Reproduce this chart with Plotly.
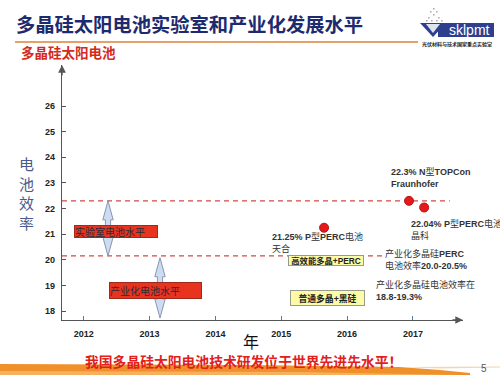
import plotly.graph_objects as go

# ---------------- data ----------------
years = [2012, 2013, 2014, 2015, 2016, 2017]
eff_ticks = [18, 19, 20, 21, 22, 23, 24, 25, 26]
record_years = [2015.65, 2016.94, 2017.17]
record_eff = [21.25, 22.3, 22.04]
record_labels = [
    "<b>21.25% P</b>型<b>PERC</b>电池<br>天合",
    "<b>22.3% N</b>型<b>TOPCon</b><br><b>Fraunhofer</b>",
    "<b>22.04% P</b>型<b>PERC</b>电池<br>晶科",
]
lab_level = 22.3
ind_level = 20.15
lab_line_end = 2017.56
ind_line_end = 2016.55

# ---------------- geometry helpers ----------------
W, H = 500, 375
L, R, T, B = 62, 37, 65, 55
X0, X1 = 2011.67, 2017.76
Y0, Y1 = 17.65, 27.6
XS = (W - L - R) / (X1 - X0)   # px per year
YS = (H - T - B) / (Y1 - Y0)   # px per unit


def dx(px):
    return X0 + (px - L) / XS


def dy(py):
    return Y0 + ((H - B) - py) / YS


def px_(px):
    return (px - L) / (W - L - R)


def py_(py):
    return ((H - B) - py) / (H - T - B)


CJK = "Noto Sans CJK SC"
LAT = "Liberation Sans, Noto Sans CJK SC"

fig = go.Figure()

# dashed level lines
fig.add_trace(go.Scatter(x=[X0, lab_line_end], y=[lab_level, lab_level], mode="lines",
                         line=dict(color="#d24a44", width=1.3, dash="5px,4px"),
                         hoverinfo="skip", showlegend=False))
fig.add_trace(go.Scatter(x=[X0, ind_line_end], y=[ind_level, ind_level], mode="lines",
                         line=dict(color="#d24a44", width=1.3, dash="5px,4px"),
                         hoverinfo="skip", showlegend=False))

# record points
fig.add_trace(go.Scatter(x=record_years, y=record_eff, mode="markers",
                         marker=dict(size=9, color="#e3191c", line=dict(color="#b51414", width=1)),
                         showlegend=False))

shapes = []
annotations = []


def block_arrow(xc, y_top, y_bot, bw=2.6, hw=5.2, hl=19):
    bx, hx, hy = bw / XS, hw / XS, hl / YS
    pts = [(xc, y_top), (xc + hx, y_top - hy), (xc + bx, y_top - hy), (xc + bx, y_bot + hy),
           (xc + hx, y_bot + hy), (xc, y_bot), (xc - hx, y_bot + hy), (xc - bx, y_bot + hy),
           (xc - bx, y_top - hy), (xc - hx, y_top - hy)]
    path = "M " + " L ".join(f"{a},{b}" for a, b in pts) + " Z"
    return dict(type="path", xref="x", yref="y", path=path, fillcolor="#cddcf0",
                line=dict(color="#8796b4", width=1), layer="above")


shapes.append(block_arrow(dx(108), lab_level, ind_level))
shapes.append(block_arrow(dx(160), ind_level - 0.07, dy(318)))

# axis arrow heads
annotations.append(dict(x=X0, y=Y1, xref="x", yref="y", ax=0, ay=12, text="", showarrow=True,
                        arrowhead=2, arrowsize=1.1, arrowwidth=1.4, arrowcolor="#555"))
annotations.append(dict(x=X1, y=Y0, xref="x", yref="y", ax=-12, ay=0, text="", showarrow=True,
                        arrowhead=2, arrowsize=1.1, arrowwidth=1.4, arrowcolor="#555"))

# red boxes
annotations.append(dict(x=dx(116), y=dy(231), xref="x", yref="y", text="实验室电池水平", showarrow=False,
                        font=dict(family=CJK, size=10, color="#2b2b3b"), bgcolor="#e8331f",
                        bordercolor="#a02a1a", borderwidth=1, borderpad=0, width=82, height=11,
                        align="left"))
annotations.append(dict(x=dx(155.5), y=dy(290), xref="x", yref="y", text="产业化电池水平", showarrow=False,
                        font=dict(family=CJK, size=10, color="#2b2b3b"), bgcolor="#e8331f",
                        bordercolor="#a02a1a", borderwidth=1, borderpad=0, width=91, height=15,
                        align="left"))
# yellow boxes
annotations.append(dict(x=dx(326), y=dy(260), xref="x", yref="y", text="<b>高效能多晶+PERC</b>", showarrow=False,
                        font=dict(family=LAT, size=8.3, color="#222"), bgcolor="#fdfba6",
                        bordercolor="#9a9a8a", borderwidth=1, borderpad=0, width=74, height=9))
annotations.append(dict(x=dx(327.5), y=dy(298), xref="x", yref="y", text="<b>普通多晶+黑硅</b>", showarrow=False,
                        font=dict(family=LAT, size=8.8, color="#222"), bgcolor="#fdfba6",
                        bordercolor="#9a9a8a", borderwidth=1, borderpad=0, width=73, height=14))

# record labels
label_pos = [(270, 242), (389, 178), (409, 229)]
for (lx, ly), txt in zip(label_pos, record_labels):
    annotations.append(dict(x=dx(lx), y=dy(ly), xref="x", yref="y", text=txt, showarrow=False,
                            xanchor="left", yanchor="middle", align="left",
                            font=dict(family=LAT, size=9, color="#333")))
annotations.append(dict(x=dx(383), y=dy(259.5), xref="x", yref="y",
                        text="产业化多晶硅<b>PERC</b><br>电池效率<b>20.0-20.5%</b>", showarrow=False,
                        xanchor="left", yanchor="middle", align="left",
                        font=dict(family=LAT, size=9, color="#333")))
annotations.append(dict(x=dx(374), y=dy(290), xref="x", yref="y",
                        text="产业化多晶硅电池效率在<br><b>18.8-19.3%</b>", showarrow=False,
                        xanchor="left", yanchor="middle", align="left",
                        font=dict(family=LAT, size=9, color="#333")))

# axis titles
annotations.append(dict(x=px_(26), y=py_(193), xref="paper", yref="paper", text="电<br>池<br>效<br>率",
                        showarrow=False, font=dict(family=CJK, size=15, color="#4a5a8c"),
                        xanchor="center", yanchor="middle"))
annotations.append(dict(x=px_(251), y=py_(341), xref="paper", yref="paper", text="年",
                        showarrow=False, font=dict(family=CJK, size=16, color="#111"),
                        xanchor="center", yanchor="middle"))

# titles
annotations.append(dict(x=px_(14), y=py_(24), xref="paper", yref="paper",
                        text="<b>多晶硅太阳电池实验室和产业化发展水平</b>", showarrow=False,
                        font=dict(family=CJK, size=19.3, color="#1d2a6e"), xanchor="left", yanchor="middle"))
annotations.append(dict(x=px_(19), y=py_(52), xref="paper", yref="paper",
                        text="<b>多晶硅太阳电池</b>", showarrow=False,
                        font=dict(family=CJK, size=13.5, color="#d42a1e"), xanchor="left", yanchor="middle"))
annotations.append(dict(x=px_(243), y=py_(361), xref="paper", yref="paper",
                        text="<b>我国多晶硅太阳电池技术研发位于世界先进先水平！</b>", showarrow=False,
                        font=dict(family=CJK, size=13.8, color="#e0201c"), xanchor="center", yanchor="middle"))
annotations.append(dict(x=px_(484), y=py_(368), xref="paper", yref="paper", text="5", showarrow=False,
                        font=dict(family=LAT, size=10, color="#555"), xanchor="center", yanchor="middle"))

# logo
annotations.append(dict(x=px_(470), y=py_(30), xref="paper", yref="paper", text="sklpmt", showarrow=False,
                        font=dict(family="Liberation Sans", size=14, color="#ffffff"),
                        xanchor="center", yanchor="middle"))
annotations.append(dict(x=px_(457), y=py_(43.5), xref="paper", yref="paper",
                        text="<b>光伏材料与技术国家重点实验室</b>", showarrow=False,
                        font=dict(family=CJK, size=5, color="#222"), xanchor="center", yanchor="middle"))


def rect_px(x0, y0, x1, y1, fill, line=None, layer="above"):
    return dict(type="rect", xref="paper", yref="paper", x0=px_(x0), x1=px_(x1), y0=py_(y1), y1=py_(y0),
                fillcolor=fill, line=dict(width=0) if line is None else line, layer=layer)


def path_px(pts, fill, layer="above"):
    p = "M " + " L ".join(f"{px_(a)},{py_(b)}" for a, b in pts) + " Z"
    return dict(type="path", xref="paper", yref="paper", path=p, fillcolor=fill,
                line=dict(width=0), layer=layer)


# title underline
shapes.append(dict(type="line", xref="paper", yref="paper", x0=px_(15), x1=px_(418), y0=py_(42), y1=py_(42),
                   line=dict(color="#e6a06a", width=2)))
# logo shapes
shapes.append(rect_px(438, 23, 494, 37, "#2e3f8f"))
shapes.append(path_px([(420, 23), (446, 23), (433, 37)], "#2e3f8f"))
shapes.append(path_px([(426, 24), (440, 24), (433, 33)], "#dfe3ee"))
for (ax_, ay_) in [(428, 17), (433, 14), (438, 17), (431, 20), (436, 20), (441, 20), (426, 20), (433, 8), (436, 11), (430, 11)]:
    shapes.append(rect_px(ax_, ay_, ax_ + 1.6, ay_ + 1.6, "#a8acc0"))

# bottom swoosh
shapes.append(path_px([(0, 364), (250, 365), (400, 367), (440, 370), (470, 373), (470, 375), (0, 375)], "#f0902a"))
shapes.append(path_px([(0, 371), (300, 372), (460, 375), (0, 375)], "#f5b060"))
shapes.append(path_px([(400, 367), (500, 366.5), (500, 367.5), (440, 368.5)], "#f3d6b0"))

fig.update_layout(
    width=W, height=H, margin=dict(l=L, r=R, t=T, b=B),
    paper_bgcolor="white", plot_bgcolor="white",
    showlegend=False, shapes=shapes, annotations=annotations,
    xaxis=dict(range=[X0, X1], tickvals=years, ticks="inside", ticklen=4, tickcolor="#5a78a8",
               showline=True, linecolor="#555", linewidth=1.4, showgrid=False, zeroline=False,
               tickfont=dict(family="Liberation Sans", size=9, color="#222", weight="bold"),
               ticklabelstandoff=5, fixedrange=True),
    yaxis=dict(range=[Y0, Y1], tickvals=eff_ticks, ticks="inside", ticklen=4, tickcolor="#555",
               showline=True, linecolor="#555", linewidth=1.4, showgrid=False, zeroline=False,
               tickfont=dict(family="Liberation Sans", size=9, color="#222", weight="bold"),
               ticklabelstandoff=4, fixedrange=True),
)

fig.write_html("out.html")
